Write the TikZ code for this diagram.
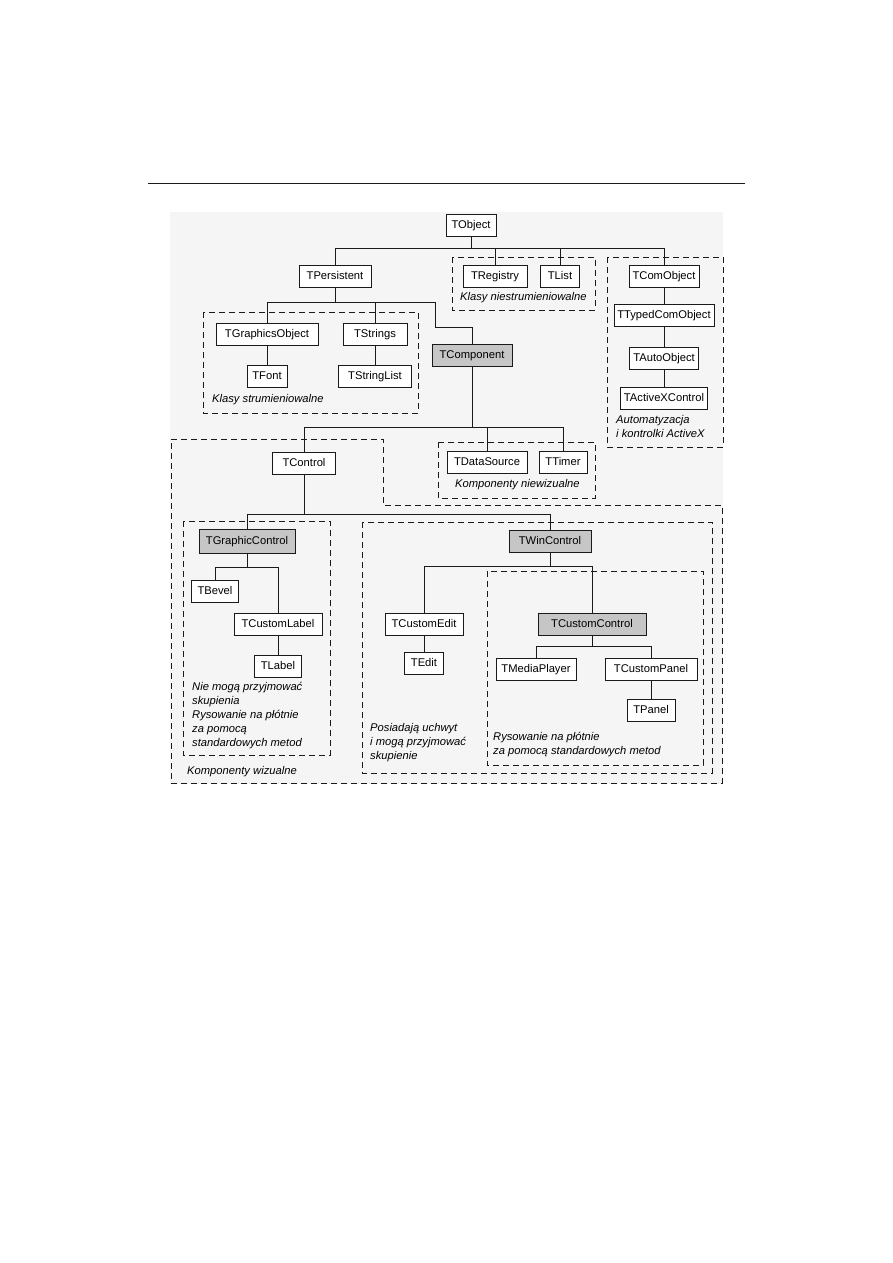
\documentclass[tikz,border=0pt]{standalone}
\usepackage{fontspec}
\setmainfont{Liberation Sans}
\usetikzlibrary{positioning, calc}
\definecolor{panel}{HTML}{F5F5F5}
\definecolor{abstract}{HTML}{C6C6C6}
\definecolor{ink}{HTML}{1A1A1A}

\begin{document}
\begin{tikzpicture}[
    x=1pt, y=-1pt,
    cls/.style={rectangle, draw=ink, fill=white, line width=0.8pt,
                minimum height=22pt, inner sep=0pt, text height=9pt, text depth=2pt,
                font=\fontsize{11.2}{13}\selectfont},
    abs/.style={cls, fill=abstract},
    group/.style={draw=ink, line width=0.8pt, dash pattern=on 6pt off 4pt},
    note/.style={anchor=west, align=left, inner sep=0pt,
                 font=\fontsize{11.2}{14}\selectfont\itshape},
    link/.style={draw=ink, line width=0.8pt}
  ]
    \useasboundingbox (0,0) rectangle (893,1263);
    \draw[line width=1pt, ink] (148,183) -- (745,183);
    \fill[panel] (170,212) rectangle (723,784);

    \draw[group] (203,312) rectangle (418,413);
    \draw[group] (452,257) rectangle (595,310);
    \draw[group] (607,257) rectangle (723,447);
    \draw[group] (438,442) rectangle (595,498);
    \draw[group] (171,439) -- (383,439) -- (383,505) -- (722,505) -- (722,783) -- (171,783) -- cycle;
    \draw[group] (183,521) rectangle (330,755);
    \draw[group] (362,522) rectangle (712,773);
    \draw[group] (487,571) rectangle (703,765);

    \node[cls, minimum width=50pt] (tobject) at (471,225) {TObject};
    \node[cls, minimum width=72pt] (tpersistent) at (335,276) {TPersistent};
    \node[cls, minimum width=64pt] (tregistry) at (495,276) {TRegistry};
    \node[cls, minimum width=39pt] (tlist) at (560,276) {TList};
    \node[cls, minimum width=70pt] (tcomobject) at (664,276) {TComObject};
    \node[cls, minimum width=102pt] (tgraphicsobject) at (267,334) {TGraphicsObject};
    \node[cls, minimum width=64pt] (tstrings) at (375,334) {TStrings};
    \node[cls, minimum width=40pt] (tfont) at (267,376) {TFont};
    \node[cls, minimum width=73pt] (tstringlist) at (375,376) {TStringList};
    \node[abs, minimum width=80pt] (tcomponent) at (472,355) {TComponent};
    \node[cls, minimum width=100pt] (ttypedcomobject) at (664,315) {TTypedComObject};
    \node[cls, minimum width=69pt] (tautoobject) at (664,358) {TAutoObject};
    \node[cls, minimum width=87pt] (tactivexcontrol) at (664,398) {TActiveXControl};
    \node[cls, minimum width=80pt] (tdatasource) at (487,462) {TDataSource};
    \node[cls, minimum width=48pt] (ttimer) at (563,462) {TTimer};
    \node[cls, minimum width=63pt] (tcontrol) at (304,463) {TControl};
    \node[abs, minimum width=96pt, minimum height=24pt] (tgraphiccontrol) at (247,541) {TGraphicControl};
    \node[abs, minimum width=82pt] (twincontrol) at (550,541) {TWinControl};
    \node[cls, minimum width=47pt] (tbevel) at (215,591) {TBevel};
    \node[cls, minimum width=88pt] (tcustomlabel) at (278,624) {TCustomLabel};
    \node[cls, minimum width=47pt] (tlabel) at (278,666) {TLabel};
    \node[cls, minimum width=78pt] (tcustomedit) at (424,624) {TCustomEdit};
    \node[cls, minimum width=39pt] (tedit) at (424,663) {TEdit};
    \node[abs, minimum width=108pt] (tcustomcontrol) at (592,624) {TCustomControl};
    \node[cls, minimum width=80pt] (tmediaplayer) at (536,669) {TMediaPlayer};
    \node[cls, minimum width=92pt] (tcustompanel) at (651,669) {TCustomPanel};
    \node[cls, minimum width=48pt] (tpanel) at (651,710) {TPanel};

    \coordinate (b1) at (0,248);
    \draw[link] (tobject) -- (tobject |- b1);
    \draw[link] (tpersistent) |- (b1 -| tcomobject) -- (tcomobject);
    \draw[link] (tregistry) -- (tregistry |- b1);
    \draw[link] (tlist) -- (tlist |- b1);

    \coordinate (b2) at (0,302);
    \coordinate (k1) at (435,327);
    \draw[link] (tpersistent) -- (tpersistent |- b2);
    \draw[link] (tgraphicsobject) |- (k1 |- b2) -- (k1) -| (tcomponent);
    \draw[link] (tstrings) -- (tstrings |- b2);
    \draw[link] (tgraphicsobject) -- (tfont);
    \draw[link] (tstrings) -- (tstringlist);
    \draw[link] (tcomobject) -- (ttypedcomobject) -- (tautoobject) -- (tactivexcontrol);

    \coordinate (b3) at (0,427);
    \draw[link] (tcomponent) -- (tcomponent |- b3);
    \draw[link] (tcontrol) |- (b3 -| ttimer) -- (ttimer);
    \draw[link] (tdatasource) -- (tdatasource |- b3);

    \coordinate (b4) at (0,514);
    \draw[link] (tcontrol) -- (tcontrol |- b4);
    \draw[link] (tgraphiccontrol) |- (b4 -| twincontrol) -- (twincontrol);

    \coordinate (b5) at (0,567);
    \draw[link] (tgraphiccontrol) -- (tgraphiccontrol |- b5);
    \draw[link] (tbevel) |- (b5 -| tcustomlabel) -- (tcustomlabel);
    \draw[link] (tcustomlabel) -- (tlabel);

    \coordinate (b6) at (0,566);
    \draw[link] (twincontrol) -- (twincontrol |- b6);
    \draw[link] (tcustomedit) |- (b6 -| tcustomcontrol) -- (tcustomcontrol);
    \draw[link] (tcustomedit) -- (tedit);

    \coordinate (b7) at (0,646);
    \draw[link] (tcustomcontrol) -- (tcustomcontrol |- b7);
    \draw[link] (tmediaplayer) |- (b7 -| tcustompanel) -- (tcustompanel);
    \draw[link] (tcustompanel) -- (tpanel);

    \node[note] (lstrum) at (212,400) {Klasy strumieniowalne};
    \node[note] (lniestrum) at (460,298) {Klasy niestrumieniowalne};
    \node[note, anchor=north west] (lactivex) at (616,415) {Automatyzacja\\i kontrolki ActiveX};
    \node[note] (lniewiz) at (455,485) {Komponenty niewizualne};
    \node[note, anchor=north west] (lgraphic) at (192,682) {Nie mogą przyjmować\\skupienia\\Rysowanie na płótnie\\za pomocą\\standardowych metod};
    \node[note] (lwizual) at (187,772) {Komponenty wizualne};
    \node[note, anchor=north west] (lwin) at (370,723) {Posiadają uchwyt\\i mogą przyjmować\\skupienie};
    \node[note, anchor=north west] (lcustom) at (493,732) {Rysowanie na płótnie\\za pomocą standardowych metod};
  \end{tikzpicture}
\end{document}
